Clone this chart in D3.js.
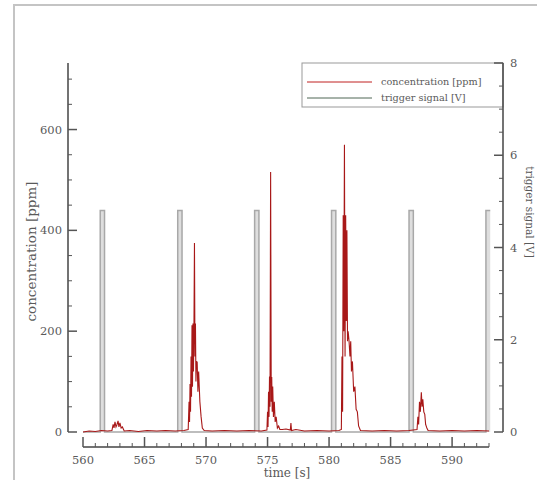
<!DOCTYPE html>
<html><head><meta charset="utf-8">
<script src="https://cdn.jsdelivr.net/npm/d3@7"></script>
<style>body{margin:0;background:#fff}svg{display:block}text{font-family:"DejaVu Serif","Liberation Serif",serif;fill:#5a5a5a}</style>
</head><body>
<script>
// ---- data ----
const concTime = [560.0,560.5,561.0,561.5,562.0,562.35,562.45,562.52,562.6,562.68,562.75,562.85,562.92,563.0,563.1,563.2,563.35,563.8,564.5,565.2,566.0,566.7,567.5,568.2,
568.55,568.62,568.66,568.7,568.74,568.78,568.82,568.86,568.9,568.94,568.98,569.02,569.06,569.1,569.14,569.18,569.22,569.28,569.34,569.4,569.5,569.6,569.7,569.85,
570.5,571.5,572.5,573.5,574.5,
574.95,575.0,575.04,575.08,575.12,575.16,575.2,575.25,575.3,575.34,575.38,575.42,575.48,575.55,575.62,575.7,575.8,575.9,576.0,576.2,576.5,576.85,576.9,576.95,577.3,578.0,579.0,580.0,580.8,
581.0,581.05,581.1,581.15,581.2,581.25,581.3,581.35,581.4,581.45,581.5,581.55,581.62,581.7,581.76,581.82,581.9,582.0,582.1,582.2,582.3,582.4,582.55,583.5,584.5,585.5,586.5,
587.15,587.22,587.28,587.35,587.42,587.5,587.56,587.62,587.7,587.78,587.85,587.95,588.05,589,590,591,592,593];
const concValue = [0,2,1,3,2,3,15,8,20,10,14,22,10,18,8,10,2,3,1,3,2,3,2,3,
5,60,20,95,40,150,70,212,90,215,120,212,375,150,215,100,140,139,80,120,60,30,8,3,
2,3,2,3,2,
4,40,10,80,30,110,50,516,60,109,40,90,30,60,20,30,8,12,5,5,6,4,18,3,5,2,3,2,3,
5,150,40,430,200,570,150,430,220,400,180,200,182,150,180,120,140,80,90,45,40,12,3,2,3,2,3,
5,30,15,60,40,79,50,65,40,35,15,8,3,2,3,2,3,2];
const trigTime  = [560.0,561.4,561.4,561.75,561.75,567.7,567.7,568.05,568.05,573.95,573.95,574.3,574.3,580.2,580.2,580.55,580.55,586.5,586.5,586.85,586.85,592.75,592.75,593.1];
const trigValue = [0,0,4.8,4.8,0,0,4.8,4.8,0,0,4.8,4.8,0,0,4.8,4.8,0,0,4.8,4.8,0,0,4.8,4.8];
const xTicks = [560,565,570,575,580,585,590];
const yLeftTicks = [0,200,400,600];
const yRightTicks = [0,2,4,6,8];
const legendLabels = ["concentration [ppm]","trigger signal [V]"];

const W=537,H=480;
const svg=d3.select("body").append("svg").attr("width",W).attr("height",H);

// outer frame
svg.append("path").attr("d","M14,480V5H537").attr("fill","none").attr("stroke","#c4c4c4").attr("stroke-width",2);

const x=d3.scaleLinear().domain([560,593]).range([83,489]);
const yL=d3.scaleLinear().domain([0,732]).range([432,63]);
const yR=d3.scaleLinear().domain([0,8]).range([432,63]);
const axL=68, axR=503, axB=447;

// trigger signal
const tData=trigTime.map((t,i)=>[t,trigValue[i]]);
svg.append("path").datum(tData)
  .attr("d",d3.area().x(d=>x(d[0])).y0(yR(0)).y1(d=>yR(d[1])))
  .attr("fill","#dedede").attr("stroke","none");
svg.append("path").datum(tData)
  .attr("d",d3.line().x(d=>x(d[0])).y(d=>yR(d[1])))
  .attr("fill","none").attr("stroke","#a8a8a8").attr("stroke-width",1.5);

// concentration
const cData=concTime.map((t,i)=>[t,concValue[i]]);
svg.append("path").datum(cData)
  .attr("d",d3.line().x(d=>x(d[0])).y(d=>yL(d[1])))
  .attr("fill","none").attr("stroke","#a81818").attr("stroke-width",1.1);

// left axis
const gL=svg.append("g").attr("transform",`translate(${axL},0)`);
gL.append("line").attr("y1",yL(732)).attr("y2",yL(0)).attr("stroke","#444").attr("stroke-width",1.5);
d3.range(0,731,50).forEach(v=>{
  const major=v%200===0;
  gL.append("line").attr("x1",0).attr("x2",major?9:4).attr("y1",yL(v)).attr("y2",yL(v)).attr("stroke","#555").attr("stroke-width",major?1.5:1);
});
yLeftTicks.forEach(v=>gL.append("text").attr("x",-6).attr("y",yL(v)).attr("dy","0.35em").attr("text-anchor","end").attr("font-size",11.5).text(v));
svg.append("text").attr("transform",`translate(36,${(yL(0)+yL(732))/2+4}) rotate(-90)`).attr("text-anchor","middle").attr("font-size",13.5).text("concentration [ppm]");

// right axis
const gR=svg.append("g").attr("transform",`translate(${axR},0)`);
gR.append("line").attr("y1",yR(8)).attr("y2",yR(0)).attr("stroke","#444").attr("stroke-width",1.5);
d3.range(0,8.01,0.5).forEach(v=>{
  const major=v%2===0;
  gR.append("line").attr("x1",0).attr("x2",major?-9:-4).attr("y1",yR(v)).attr("y2",yR(v)).attr("stroke","#555").attr("stroke-width",major?1.5:1);
});
yRightTicks.forEach(v=>gR.append("text").attr("x",7).attr("y",yR(v)).attr("dy","0.35em").attr("text-anchor","start").attr("font-size",11.5).text(v));
svg.append("text").attr("transform",`translate(526,212) rotate(90)`).attr("text-anchor","middle").attr("font-size",10.5).text("trigger signal [V]");

// bottom axis
const gB=svg.append("g").attr("transform",`translate(0,${axB})`);
gB.append("line").attr("x1",x(560)).attr("x2",x(593)).attr("stroke","#444").attr("stroke-width",1.5);
d3.range(560,593.01,1).forEach(v=>{
  const major=v%5===0;
  gB.append("line").attr("x1",x(v)).attr("x2",x(v)).attr("y1",0).attr("y2",major?-10:-4).attr("stroke","#555").attr("stroke-width",major?1.5:1);
});
xTicks.forEach(v=>gB.append("text").attr("x",x(v)).attr("y",13).attr("dy","0.35em").attr("text-anchor","middle").attr("font-size",11.5).text(v));
svg.append("text").attr("x",287).attr("y",477).attr("text-anchor","middle").attr("font-size",12).text("time [s]");

// legend
const lg=svg.append("g");
lg.append("rect").attr("x",302).attr("y",63).attr("width",201).attr("height",44).attr("fill","#fff").attr("stroke","#999").attr("stroke-width",1);
const lgColors=["#c02020","#4e6655"];
legendLabels.forEach((s,i)=>{
  const yy=82+i*16;
  lg.append("line").attr("x1",307).attr("x2",372).attr("y1",yy).attr("y2",yy).attr("stroke",lgColors[i]).attr("stroke-width",1);
  lg.append("text").attr("x",381).attr("y",yy).attr("dy","0.35em").attr("font-size",9.7).text(s);
});
gR.raise();
</script>
</body></html>
